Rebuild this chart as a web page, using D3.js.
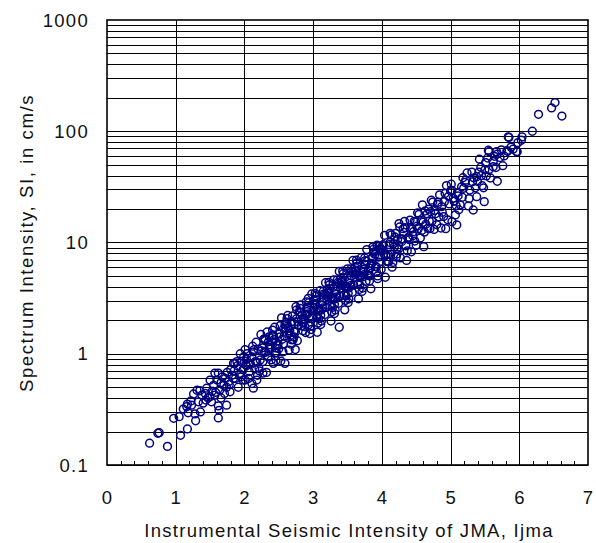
<!DOCTYPE html>
<html><head><meta charset="utf-8">
<script src="https://cdn.jsdelivr.net/npm/d3@7"></script>
<style>
body{margin:0;background:#fff}
svg{display:block}
text{font-family:"Liberation Sans",Arial,sans-serif;fill:#111}
</style></head>
<body><svg id="chart" width="596" height="543"></svg>
<script>
// ---- data: [Ijma, SI (cm/s)] ----
const samples = [
[0.62,0.157],[0.74,0.193],[0.76,0.195],[0.88,0.147],[0.97,0.263],[1.05,0.272],[1.07,0.185],[1.11,0.318],[1.16,0.335],[1.17,0.211],
[1.17,0.353],[1.18,0.295],[1.22,0.376],[1.23,0.345],[1.26,0.435],[1.29,0.25],[1.28,0.288],[1.31,0.47],[1.33,0.37],[1.35,0.465],[1.36,0.30],
[1.38,0.425],[1.44,0.384],[1.45,0.49],[1.50,0.412],[1.52,0.37],[1.57,0.425],[1.62,0.265],[1.62,0.34],[1.63,0.31],[1.62,0.67],
[1.74,0.345],[1.74,0.50],[1.79,0.455],[1.84,0.60],[1.89,0.85],[1.91,0.50],[1.94,1.0],[2.01,0.58],[2.03,0.78],
[1.55,0.52],[1.58,0.45],[1.60,0.58],[1.64,0.47],[1.66,0.55],[1.68,0.62],[1.70,0.52],[1.72,0.60],[1.75,0.68],[1.77,0.56],
[1.80,0.72],[1.82,0.64],[1.85,0.70],[1.87,0.60],[1.90,0.78],[1.93,0.66],[1.96,0.85],[1.98,0.72],[1.40,0.36],[1.43,0.44],
[1.47,0.40],[1.53,0.46],[1.66,0.40],[1.71,0.44],[1.78,0.53],[1.86,0.82],[1.95,0.62],[1.99,0.94],[1.50,0.58],[1.57,0.67],[1.84,0.82],[1.98,0.58],
[2.02,0.80],[2.07,0.69],[2.04,1.00],[2.09,0.80],[2.01,1.09],[2.06,0.60],[2.03,0.89],[2.08,0.82],
[2.12,1.17],[2.15,0.73],[2.11,0.93],[2.18,0.84],[2.14,1.09],[2.19,0.64],[2.13,1.04],[2.16,0.85],[2.17,1.27],[2.13,0.49],[2.11,0.54],[2.18,0.58],
[2.21,0.75],[2.25,1.06],[2.23,0.88],[2.28,1.35],[2.22,0.70],[2.26,1.13],[2.29,1.04],[2.24,1.49],[2.27,0.85],[2.20,1.10],[2.27,0.67],
[2.32,0.68],[2.36,1.42],[2.31,1.03],[2.38,1.20],[2.34,0.94],[2.30,1.34],[2.37,1.11],[2.33,1.57],[2.39,0.88],[2.35,1.28],[2.36,1.14],[2.30,1.37],
[2.41,1.63],[2.45,1.02],[2.43,1.34],[2.48,1.19],[2.40,1.46],[2.46,0.87],[2.42,1.45],[2.49,1.23],[2.44,1.73],[2.47,1.02],[2.41,1.28],[2.45,1.13],[2.42,0.82],
[2.52,1.79],[2.56,1.04],[2.51,1.51],[2.58,1.44],[2.54,2.10],[2.50,1.11],[2.57,1.68],[2.53,0.86],[2.59,1.84],[2.55,1.35],[2.52,1.42],[2.57,1.23],[2.59,0.82],
[2.61,1.92],[2.65,1.53],[2.63,2.21],[2.68,1.22],[2.60,1.71],[2.66,1.61],[2.62,2.07],[2.69,1.33],[2.64,1.70],[2.67,1.47],[2.61,1.85],[2.65,1.08],[2.68,1.93],
[2.72,1.59],[2.76,2.48],[2.71,1.34],[2.78,1.93],[2.74,1.56],[2.70,2.19],[2.77,1.31],[2.73,1.93],[2.79,1.81],[2.75,2.65],[2.72,1.42],[2.76,2.07],[2.74,1.09],
[2.81,2.36],[2.85,1.90],[2.83,2.02],[2.88,1.75],[2.80,2.38],[2.86,1.93],[2.82,2.75],[2.89,1.55],[2.84,2.24],[2.87,2.04],[2.81,2.56],[2.85,1.61],[2.88,2.24],[2.83,1.78],
[2.91,2.61],[2.95,1.52],[2.93,2.58],[2.98,2.14],[2.90,2.93],[2.96,1.77],[2.92,2.28],[2.99,2.08],[2.94,2.89],[2.97,1.65],[2.91,2.39],[2.95,2.19],[2.98,3.45],[2.93,1.81],[2.93,3.15],
[3.02,2.80],[3.06,1.56],[3.04,3.06],[3.08,2.44],[3.00,2.45],[3.05,2.11],[3.01,3.03],[3.09,2.50],[3.03,3.49],[3.07,1.89],[3.02,2.75],[3.06,2.52],[3.04,3.32],[3.08,2.07],[3.01,2.60],
[3.12,2.47],[3.16,3.46],[3.11,1.83],[3.18,3.42],[3.14,2.58],[3.10,3.69],[3.17,2.25],[3.13,2.90],[3.19,2.61],[3.15,3.65],[3.12,1.97],[3.16,3.16],[3.14,2.73],[3.18,4.35],[3.11,2.22],
[3.22,3.53],[3.26,1.97],[3.24,3.86],[3.28,3.08],[3.20,3.08],[3.25,2.67],[3.21,3.81],[3.29,3.14],[3.23,4.39],[3.27,2.38],[3.22,3.47],[3.26,3.18],[3.24,4.19],[3.28,2.61],[3.21,3.28],
[3.32,3.11],[3.36,4.37],[3.31,2.30],[3.38,4.32],[3.34,3.25],[3.30,4.62],[3.37,2.84],[3.33,3.64],[3.39,3.29],[3.35,4.60],[3.32,2.47],[3.36,4.00],[3.34,3.43],[3.38,5.50],[3.31,2.79],[3.38,1.73],
[3.42,4.44],[3.46,2.48],[3.44,4.86],[3.48,3.90],[3.40,3.87],[3.45,3.36],[3.41,4.78],[3.49,3.99],[3.43,5.53],[3.47,3.02],[3.42,4.36],[3.46,4.02],[3.44,5.27],[3.48,3.31],[3.41,4.12],
[3.52,3.90],[3.56,5.48],[3.51,2.89],[3.58,5.42],[3.54,4.09],[3.50,5.80],[3.57,3.57],[3.53,4.58],[3.59,4.14],[3.55,5.78],[3.52,3.10],[3.56,5.01],[3.54,4.31],[3.58,6.89],[3.51,3.50],
[3.62,5.56],[3.66,3.12],[3.64,6.10],[3.68,4.89],[3.60,4.86],[3.65,4.21],[3.61,5.99],[3.69,5.00],[3.63,6.93],[3.67,3.79],[3.62,5.46],[3.66,5.04],[3.64,6.60],[3.68,4.15],[3.61,5.16],
[3.72,4.90],[3.76,6.88],[3.71,3.63],[3.78,6.79],[3.74,5.13],[3.70,7.29],[3.77,4.48],[3.73,5.74],[3.79,5.19],[3.75,7.26],[3.72,3.90],[3.76,6.30],[3.74,5.42],[3.78,8.64],
[3.82,5.00],[3.86,7.34],[3.84,3.84],[3.88,8.04],[3.80,5.61],[3.85,6.48],[3.81,5.07],[3.89,8.25],[3.83,5.89],[3.87,9.14],[3.82,4.50],[3.86,7.21],[3.84,6.21],[3.88,8.71],
[3.92,5.46],[3.96,7.70],[3.91,6.09],[3.98,8.85],[3.94,4.73],[3.90,7.80],[3.97,6.67],[3.93,9.49],[3.99,5.76],[3.95,7.38],[3.92,6.02],[3.96,9.24],[3.94,5.01],
[4.02,8.47],[4.06,7.80],[4.04,11.6],[4.08,6.72],[4.00,8.58],[4.05,4.87],[4.01,9.30],[4.09,7.81],[4.03,7.93],[4.07,6.81],[4.02,9.56],[4.06,7.64],
[4.12,12.1],[4.16,6.62],[4.11,9.55],[4.18,9.13],[4.14,11.7],[4.10,6.70],[4.17,9.77],[4.13,7.81],[4.19,11.2],[4.15,6.00],[4.12,10.0],
[4.22,8.86],[4.26,13.8],[4.21,7.39],[4.28,10.7],[4.24,8.69],[4.20,12.1],[4.27,7.28],[4.23,10.7],[4.29,10.2],[4.25,14.8],[4.22,7.87],
[4.32,12.3],[4.36,6.90],[4.34,13.6],[4.38,10.9],[4.30,10.8],[4.35,9.35],[4.31,13.3],[4.39,11.2],[4.33,15.5],[4.37,8.42],
[4.42,13.6],[4.46,12.5],[4.41,15.9],[4.48,10.3],[4.44,13.2],[4.40,10.6],[4.47,15.5],[4.43,8.25],[4.49,15.3],[4.45,11.5],
[4.52,18.5],[4.56,11.0],[4.51,14.0],[4.58,12.8],[4.54,17.9],[4.50,9.45],[4.57,15.9],[4.53,13.3],[4.59,21.8],
[4.62,12.4],[4.66,18.1],[4.61,9.18],[4.68,19.9],[4.64,14.6],[4.60,15.2],[4.67,13.4],[4.63,19.2],[4.69,15.6],
[4.72,24.0],[4.76,13.1],[4.71,18.9],[4.78,18.1],[4.74,23.1],[4.70,13.3],[4.77,19.4],[4.73,15.5],
[4.82,23.0],[4.86,13.5],[4.81,22.0],[4.88,18.7],[4.84,26.8],[4.80,14.5],[4.87,21.0],[4.83,17.0],
[4.92,27.6],[4.96,16.0],[4.91,23.3],[4.98,22.2],[4.94,32.5],[4.90,17.1],[4.97,26.0],[4.93,13.3],
[5.02,29.4],[5.06,23.6],[5.04,25.0],[5.08,21.5],[5.00,29.2],[5.05,23.5],[5.01,33.4],[5.09,14.4],[5.07,17.7],[5.02,15.4],
[5.12,19.7],[5.16,31.6],[5.11,26.3],[5.18,38.2],[5.14,21.8],[5.10,28.1],[5.17,25.5],[5.19,30.7],
[5.22,36.3],[5.26,21.3],[5.21,34.7],[5.28,29.6],[5.24,42.2],[5.27,24.8],
[5.32,35.2],[5.36,31.0],[5.31,43.0],[5.38,25.8],[5.34,38.1],[5.39,35.5],[5.33,19.6],[5.38,39.0],
[5.42,56.1],[5.46,32.4],[5.41,42.8],[5.48,31.0],[5.44,47.5],[5.49,23.3],[5.45,40.0],
[5.52,39.7],[5.56,45.2],[5.51,52.2],[5.58,38.0],[5.54,57.5],[5.55,67.5],[5.56,65.5],[5.50,45.0],
[5.62,53.4],[5.66,47.2],[5.64,59.5],[5.68,62.4],[5.67,65.5],[5.68,35.5],[5.62,48.0],
[5.72,58.0],[5.76,49.0],[5.78,60.0],[5.88,72.0],[5.74,68.0],[5.83,66.0],[5.82,67.0],[5.84,89.0],[5.85,88.0],[5.91,69.0],
[5.96,65.5],[5.97,65.5],[5.98,79.0],[6.03,83.0],[6.04,89.0],[6.19,100],[6.28,142],[6.47,162],[6.52,181],[6.62,137]
];

const xTicks = [0, 1, 2, 3, 4, 5, 6, 7];
const yTicks = [0.1, 1, 10, 100, 1000];
const yTickLabels = ["0.1", "1", "10", "100", "1000"];
const xTitle = "Instrumental Seismic Intensity of JMA, Ijma";
const yTitle = "Spectrum Intensity, SI, in cm/s";

// ---- drawing ----
const svg = d3.select("#chart");
const L = 107, R = 588, T = 20, B = 465;
const x = d3.scaleLinear().domain([0, 7]).range([L, R]);
const y = d3.scaleLog().domain([0.1, 1000]).range([B, T]);
const FS = 18.5, LS = 1.3;

const g = svg.append("g");

// horizontal log grid
const gridY = [];
[0.1, 1, 10, 100].forEach(dec => { for (let k = 1; k <= 9; k++) gridY.push(k * dec); });
g.append("g").selectAll("line").data(gridY).join("line")
  .attr("x1", L).attr("x2", R)
  .attr("y1", d => Math.round(y(d)) + 0.5).attr("y2", d => Math.round(y(d)) + 0.5)
  .attr("stroke", "#000").attr("stroke-width", 1);

// vertical grid
g.append("g").selectAll("line").data(xTicks.slice(1, -1)).join("line")
  .attr("x1", d => Math.round(x(d)) + 0.5).attr("x2", d => Math.round(x(d)) + 0.5)
  .attr("y1", T).attr("y2", B)
  .attr("stroke", "#000").attr("stroke-width", 1);

// minor x ticks
const minorX = d3.range(0, 7.001, 0.2).filter(v => Math.abs(v - Math.round(v)) > 1e-6);
g.append("g").selectAll("line").data(minorX).join("line")
  .attr("x1", d => Math.round(x(d)) + 0.5).attr("x2", d => Math.round(x(d)) + 0.5)
  .attr("y1", B - 4).attr("y2", B)
  .attr("stroke", "#000").attr("stroke-width", 1);

// points
g.append("g").selectAll("circle").data(samples).join("circle")
  .attr("cx", d => x(d[0])).attr("cy", d => y(d[1]))
  .attr("r", 3.9)
  .attr("fill", "none").attr("stroke", "#000080").attr("stroke-width", 1.5);

// frame
g.append("rect").attr("x", L).attr("y", T).attr("width", R - L).attr("height", B - T)
  .attr("fill", "none").attr("stroke", "#000").attr("stroke-width", 1.6);

// tick labels
svg.append("g").selectAll("text").data(xTicks).join("text")
  .attr("x", d => x(d)).attr("y", 504)
  .attr("text-anchor", "middle").attr("font-size", FS)
  .text(d => d);

svg.append("g").selectAll("text").data(yTicks).join("text")
  .attr("x", 89).attr("y", d => y(d) + 6.5)
  .attr("text-anchor", "end").attr("font-size", FS).attr("letter-spacing", LS)
  .text((d, i) => yTickLabels[i]);

// titles
svg.append("text").attr("x", 349).attr("y", 537)
  .attr("text-anchor", "middle").attr("font-size", FS).attr("letter-spacing", LS).text(xTitle);
svg.append("text")
  .attr("transform", "translate(33,243) rotate(-90)")
  .attr("text-anchor", "middle").attr("font-size", FS).attr("letter-spacing", 1.6).text(yTitle);
</script></body></html>
